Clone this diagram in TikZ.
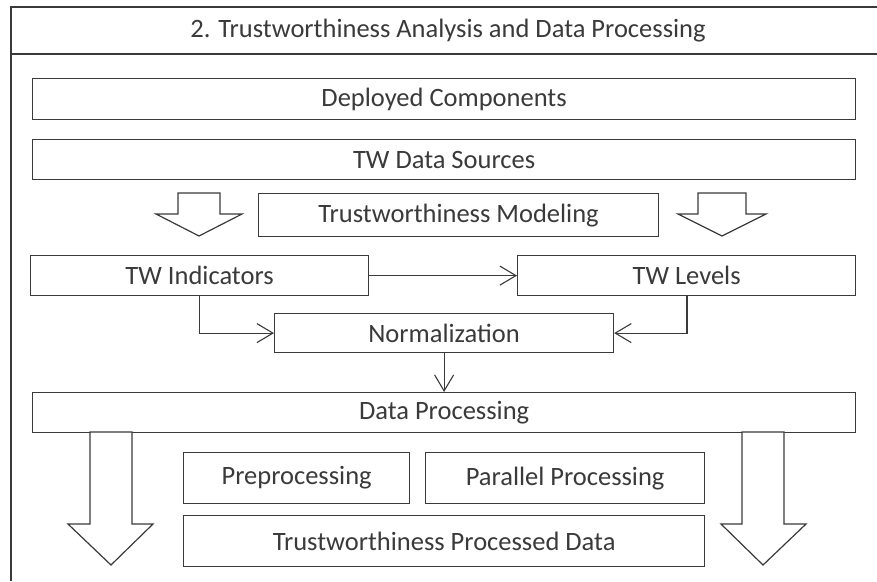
\documentclass[tikz,border=0pt]{standalone}
\usepackage{fontspec}
\setmainfont{Carlito}
\usetikzlibrary{arrows.meta}
\definecolor{ink}{HTML}{3A3A3A}
\tikzset{
  frameline/.style={draw=ink, line width=1.1pt},
  label/.style={text=ink, font=\fontsize{26.5}{30}\selectfont},
  box/.style={draw=ink, line width=1.2pt, fill=white, inner sep=0pt, label},
  link/.style={draw=ink, line width=1.1pt, -{Straight Barb[length=16pt, width=19pt, line width=1.1pt]}},
  blockarrow/.style={draw=ink, line width=1.2pt, fill=white, line join=miter},
}
% Box from corner (x1,y1) to corner (x2,y2), y measured downward, with centred text
\newcommand{\bx}[6]{%
  \node[box, minimum width={#4-#2}, minimum height={#5-#3}, anchor=north west]
    (#1) at (#2,#3) {#6};}
\begin{document}
\begin{tikzpicture}[x=1pt, y=-1pt]
\useasboundingbox (0,0) rectangle (877,581);

% outer panel and title bar
\draw[frameline] (11,581) -- (11,7) -- (877,7);
\draw[frameline] (11,54) -- (877,54);
\node[label] (title) at (448,31) {2. Trustworthiness Analysis and Data Processing};

% upper boxes
\bx{deployed}{32}{78}{855}{119}{Deployed Components}
\bx{sources}{32}{139}{855}{179}{TW Data Sources}

% small block arrows
\draw[blockarrow] (178,193) -- (220,193) -- (220,214) -- (242,214) -- (199,236)
  -- (156,214) -- (178,214) -- cycle;
\draw[blockarrow] (698,193) -- (746,193) -- (746,214) -- (766,214) -- (722,236)
  -- (678,214) -- (698,214) -- cycle;

\bx{modeling}{258}{193}{658}{236}{Trustworthiness Modeling}

\bx{indicators}{30}{255}{368}{295}{TW Indicators}
\bx{levels}{517}{255}{855}{295}{TW Levels}

\bx{norm}{274}{313}{613}{352}{Normalization}

\bx{processing}{32}{392}{855}{432}{Data Processing}

% connectors
\draw[link] (indicators.east) -- (levels.west);
\draw[link] (indicators.south) |- (norm.west);
\draw[link] (levels.south -| 687,0) |- (norm.east);
\draw[link] (norm.south) -- (norm.south |- processing.north);

% large block arrows
\draw[blockarrow] (90,432) -- (132,432) -- (132,524) -- (153,524) -- (111,565)
  -- (68,524) -- (90,524) -- cycle;
\draw[blockarrow] (742,432) -- (784,432) -- (784,524) -- (806,524) -- (763,565)
  -- (721,524) -- (742,524) -- cycle;

% lower boxes
\bx{pre}{183}{452}{409}{503}{Preprocessing}
\bx{parallel}{425}{452}{704}{503}{Parallel Processing}
\bx{processed}{183}{515}{704}{566}{Trustworthiness Processed Data}
\end{tikzpicture}
\end{document}
